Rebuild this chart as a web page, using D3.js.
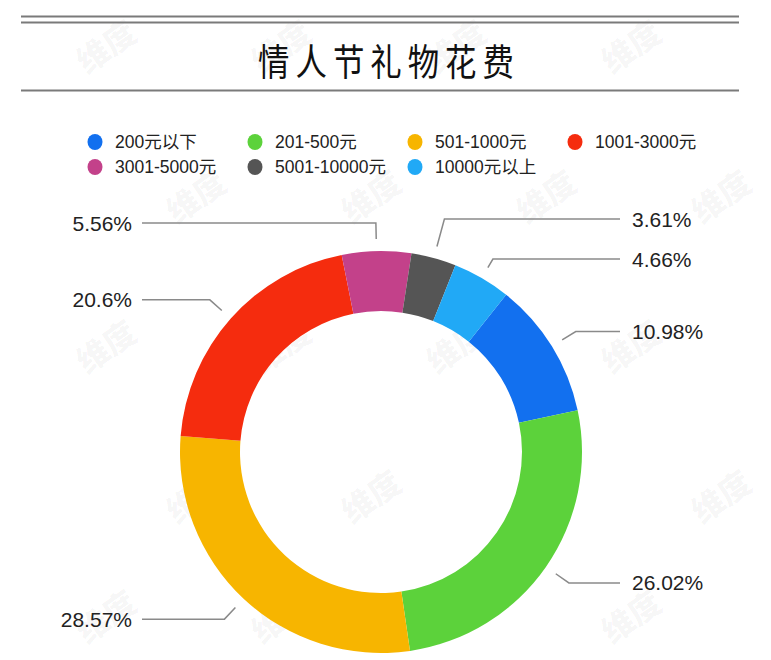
<!DOCTYPE html>
<html>
<head>
<meta charset="utf-8">
<script src="https://cdn.jsdelivr.net/npm/d3@7"></script>
<style>
  html, body { margin: 0; padding: 0; background: #fff; }
  svg { display: block; }
</style>
</head>
<body>
<svg id="chart" width="771" height="660"></svg>
<script>
// ---- data ----
const title = "情人节礼物花费";
const categories = ["200元以下", "201-500元", "501-1000元", "1001-3000元", "3001-5000元", "5001-10000元", "10000元以上"];
const values = [10.98, 26.02, 28.57, 20.6, 5.56, 3.61, 4.66];
const valueLabels = ["10.98%", "26.02%", "28.57%", "20.6%", "5.56%", "3.61%", "4.66%"];
const colors = ["#1270EF", "#5CD23B", "#F7B500", "#F52C0E", "#C3418A", "#555555", "#21A9F6"];
const watermark = "维度";

// ---- layout ----
const W = 771, H = 660;
const cx = 381, cy = 452, rOuter = 201, rInner = 141;
const startDeg = 38.5;
const latin = "Helvetica, Arial, 'Liberation Sans', 'Noto Sans CJK SC', sans-serif";

const svg = d3.select("#chart");

// watermarks (only those fully inside the picture)
const wm = svg.append("g");
const wmRows = [45, 195, 345, 495, 615];
wmRows.forEach((y, i) => {
  const x0 = i % 2 === 0 ? 105 : 20;
  for (let x = x0; x < W; x += 175) {
    if (x < 45 || x > W - 45) continue;
    wm.append("text")
      .attr("transform", `translate(${x},${y}) rotate(-35)`)
      .attr("text-anchor", "middle")
      .attr("dominant-baseline", "central")
      .attr("font-family", "'Noto Sans CJK SC', sans-serif")
      .attr("font-weight", 900)
      .attr("font-size", 32)
      .attr("fill", "#000")
      .attr("fill-opacity", 0.04)
      .text(watermark);
  }
});

// header rules
const rule = (y) => svg.append("line").attr("x1", 21).attr("x2", 739)
  .attr("y1", y).attr("y2", y).attr("stroke", "#7a7a7a").attr("stroke-width", 2);
rule(16.5); rule(22.5); rule(90.5);

// title
svg.append("text")
  .attr("transform", "translate(389,60) scale(0.85,1)")
  .attr("text-anchor", "middle")
  .attr("dominant-baseline", "central")
  .attr("font-family", "'Noto Sans CJK SC', sans-serif")
  .attr("font-size", 37)
  .attr("letter-spacing", 7)
  .attr("fill", "#111")
  .text(title);

// legend
const legX = d3.scalePoint().domain([0, 1, 2, 3]).range([95, 575]);
const legend = svg.append("g");
categories.forEach((c, i) => {
  const col = i % 4, row = Math.floor(i / 4);
  const g = legend.append("g").attr("transform", `translate(${legX(col)},${142 + row * 25})`);
  g.append("ellipse").attr("rx", 7.5).attr("ry", 8).attr("fill", colors[i]);
  g.append("text").attr("x", 20).attr("dominant-baseline", "central")
    .attr("font-family", latin).attr("font-size", 17.5).attr("fill", "#222").text(c);
});

// donut
const pie = d3.pie().sort(null).value(d => d)
  .startAngle(startDeg * Math.PI / 180)
  .endAngle(startDeg * Math.PI / 180 + 2 * Math.PI);
const arcs = pie(values);
const arc = d3.arc().innerRadius(rInner).outerRadius(rOuter);
const donut = svg.append("g").attr("transform", `translate(${cx},${cy})`);
donut.selectAll("path").data(arcs).join("path")
  .attr("d", arc).attr("fill", (d, i) => colors[i]);

// labels with leader lines
const rPoint = 213, rLabel = 229, gap = 40;
const items = arcs.map((a, i) => {
  const m = (a.startAngle + a.endAngle) / 2;
  const dx = Math.sin(m), dy = -Math.cos(m);
  return {
    i, dx, dy,
    px: cx + rPoint * dx, py: cy + rPoint * dy,
    ly: cy + rLabel * dy,
    right: dx >= 0
  };
});
// simple overlap avoidance per side (upper label yields more)
[true, false].forEach(side => {
  const s = items.filter(d => d.right === side).sort((a, b) => a.ly - b.ly);
  for (let iter = 0; iter < 20; iter++) {
    for (let k = 1; k < s.length; k++) {
      const d = s[k].ly - s[k - 1].ly;
      if (d < gap) {
        const sh = gap - d;
        s[k - 1].ly -= sh * 0.7; s[k].ly += sh * 0.3;
      }
    }
  }
});
const lines = svg.append("g");
items.forEach(d => {
  const t = Math.abs(d.dy) > 1e-6 ? (d.ly - d.py) / d.dy : 0;
  const ex = d.px + d.dx * Math.max(t, 0);
  const endX = d.right ? 620 : 142;
  lines.append("polyline")
    .attr("points", `${d.px},${d.py} ${ex},${d.ly} ${endX},${d.ly}`)
    .attr("fill", "none").attr("stroke", "#8a8a8a").attr("stroke-width", 1.5);
  lines.append("text")
    .attr("x", d.right ? 632 : 132).attr("y", d.ly)
    .attr("text-anchor", d.right ? "start" : "end")
    .attr("dominant-baseline", "central")
    .attr("font-family", latin).attr("font-size", 21).attr("fill", "#222")
    .text(valueLabels[d.i]);
});
</script>
</body>
</html>
